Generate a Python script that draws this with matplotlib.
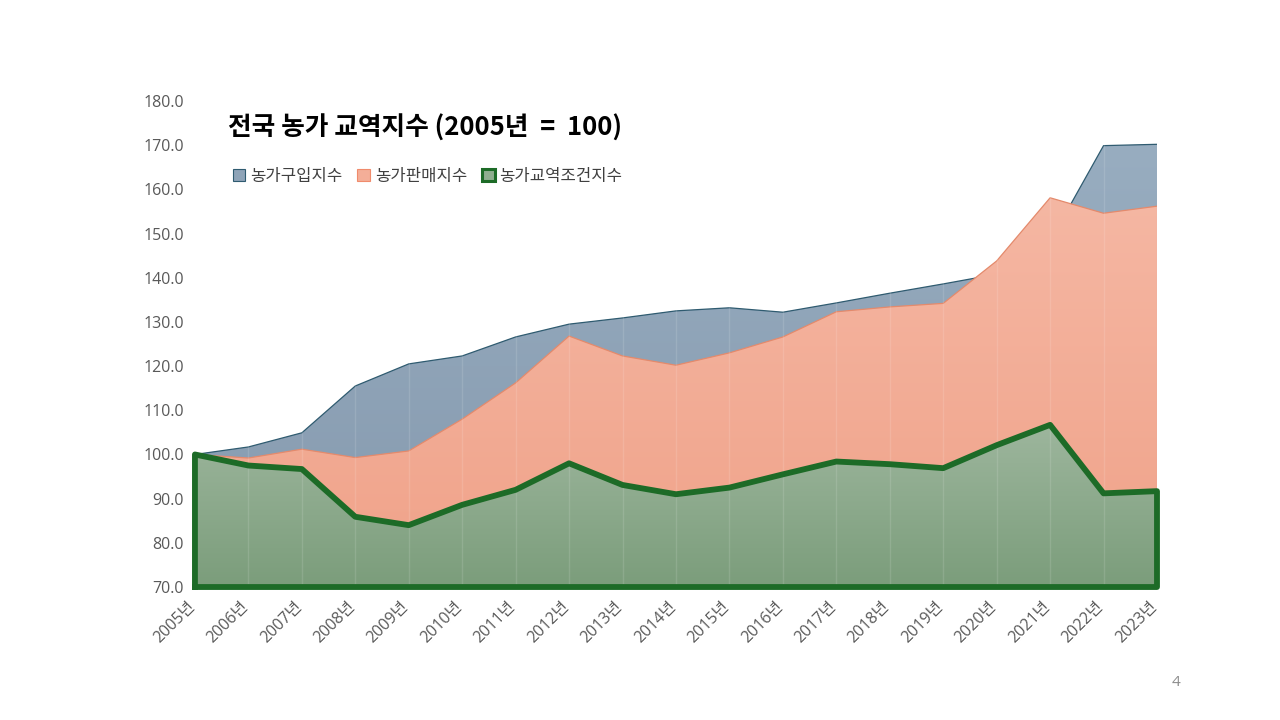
import numpy as np
import matplotlib
matplotlib.use("Agg")
import matplotlib.pyplot as plt
import matplotlib.transforms as mtransforms
from matplotlib.colors import LinearSegmentedColormap
from matplotlib.patches import Patch

plt.rcParams['font.family'] = ['Open Sans', 'Noto Sans CJK KR', 'DejaVu Sans']

# Data
years = [f"{y}년" for y in range(2005, 2024)]
purchase = [100.0, 101.7, 104.9, 115.5, 120.5, 122.3, 126.6, 129.5, 130.9, 132.5,
            133.2, 132.2, 134.3, 136.5, 138.6, 140.8, 148.3, 169.9, 170.2]
sales = [100.0, 99.2, 101.2, 99.3, 100.8, 108.0, 116.2, 126.8, 122.3, 120.2,
         123.0, 126.6, 132.3, 133.4, 134.2, 143.8, 158.1, 154.6, 156.2]
terms = [100.0, 97.5, 96.7, 85.9, 84.0, 88.6, 92.0, 98.0, 93.1, 91.0,
         92.5, 95.5, 98.4, 97.8, 96.9, 102.1, 106.7, 91.2, 91.7]
labels = ["농가구입지수", "농가판매지수", "농가교역조건지수"]
y_min, y_max = 70, 180


def gradient_area(ax, x, y, top_color, bottom_color, zorder):
    # fill the area under y with a vertical gradient clipped to the polygon
    poly = ax.fill_between(x, y, y_min, facecolor="none", edgecolor="none", zorder=zorder)
    cmap = LinearSegmentedColormap.from_list("g", [bottom_color, top_color])
    grad = np.linspace(0, 1, 256).reshape(-1, 1)
    im = ax.imshow(grad, cmap=cmap, origin="lower", aspect="auto",
                   extent=[x[0], x[-1], y_min, max(y)], zorder=zorder)
    im.set_clip_path(poly.get_paths()[0], transform=ax.transData)
    return poly


fig = plt.figure(figsize=(12.8, 7.2), dpi=100)
ax = fig.add_axes([0.1523, 0.1847, 0.7516, 0.675])
x = np.arange(len(years))

gradient_area(ax, x, purchase, "#98adc0", "#8599ae", 1)
ax.plot(x, purchase, color="#2f5b70", lw=0.9, zorder=1.5)

gradient_area(ax, x, sales, "#f5b7a3", "#f0a289", 2)
ax.plot(x, sales, color="#e48a6c", lw=0.9, zorder=2.5)

gradient_area(ax, x, terms, "#9db69d", "#7b9d7b", 3)

# faint vertical drop lines
for xi in x[1:-1]:
    ax.axvline(xi, color="white", alpha=0.12, lw=1, zorder=3.2)

# thick outline of the terms-of-trade area
ox = np.concatenate([[x[0]], x, [x[-1], x[0]]])
oy = np.concatenate([[y_min], terms, [y_min, y_min]])
ax.plot(ox, oy, color="#1d6b27", lw=4.2, solid_joinstyle="round", clip_on=False, zorder=4)

ax.set_xlim(0, len(years) - 1)
ax.set_ylim(y_min, y_max)
ax.set_yticks(np.arange(70, 181, 10))
ax.set_yticklabels([f"{v:.1f}" for v in np.arange(70, 181, 10)])
ax.set_xticks(x)
ax.set_xticklabels(years, rotation=45, ha="right", rotation_mode="anchor")
ax.tick_params(axis="both", length=0, colors="#595959", labelsize=11.5)
ax.tick_params(axis="y", pad=8)
ax.tick_params(axis="x", pad=8)
offset = mtransforms.ScaledTranslation(-8 / 100, 0, fig.dpi_scale_trans)
for lab in ax.get_xticklabels():
    lab.set_transform(lab.get_transform() + offset)
for s in ax.spines.values():
    s.set_visible(False)

fig.text(0.178, 0.822, "전국 농가 교역지수 (2005년  =  100)", fontsize=18.5,
         fontweight="bold", color="black", va="center",
         family=['Noto Sans CJK KR', 'DejaVu Sans'])

handles = [Patch(facecolor="#8fa4b8", edgecolor="#2f5b70", lw=0.8),
           Patch(facecolor="#f4ae98", edgecolor="#f08b6c", lw=0.8),
           Patch(facecolor="#8fae8f", edgecolor="#1d6b27", lw=2.2)]
leg = ax.legend(handles, labels, loc="center left", bbox_to_anchor=(0.170, 0.755),
                bbox_transform=fig.transFigure, ncol=3, frameon=False,
                handlelength=0.75, handleheight=0.75, handletextpad=0.3, columnspacing=0.9,
                labelcolor="#404040", prop={'family': ['Noto Sans CJK KR'], 'size': 12})

fig.text(0.919, 0.047, "4", fontsize=11, color="#8c8c8c", ha="center")

fig.savefig("out.png", dpi=100)
